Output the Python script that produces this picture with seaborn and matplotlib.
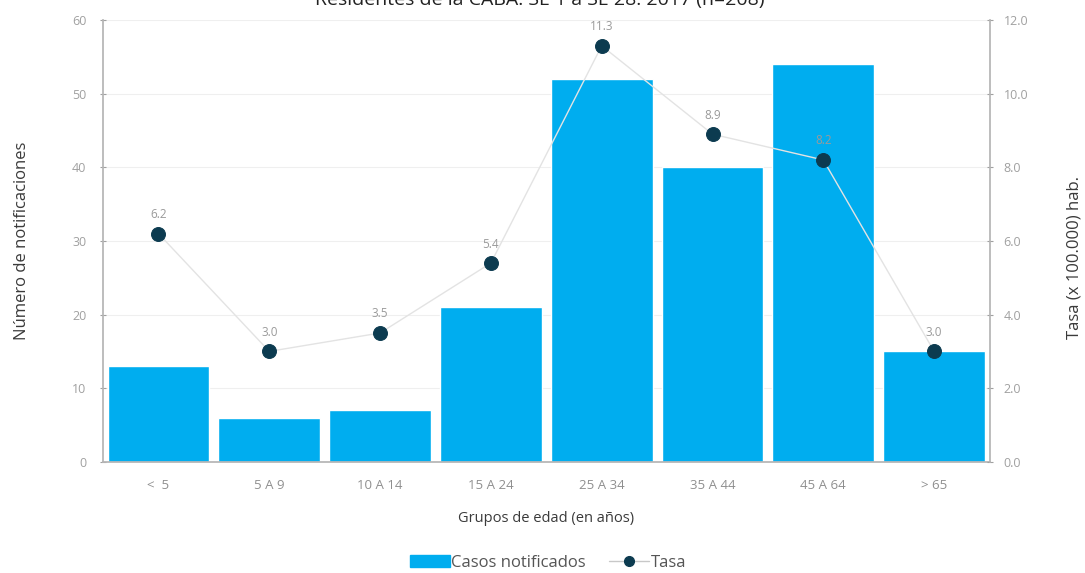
import matplotlib

matplotlib.use("Agg")

import matplotlib.pyplot as plt
import seaborn as sns
from matplotlib.lines import Line2D
from matplotlib.patches import Patch

age_groups = ["<  5", "5 A 9", "10 A 14", "15 A 24", "25 A 34", "35 A 44", "45 A 64", "> 65"]
cases = [13, 6, 7, 21, 52, 40, 54, 15]
rates = [6.2, 3.0, 3.5, 5.4, 11.3, 8.9, 8.2, 3.0]
left_ticks = [0, 10, 20, 30, 40, 50, 60]
right_ticks = [0, 2, 4, 6, 8, 10, 12]

title = "Residentes de la CABA. SE 1 a SE 28. 2017 (n=208) *"

bar_color = "#00adef"
dot_color = "#0c3b50"
line_color = "#e3e3e3"
tick_color = "#a0a0a0"
label_color = "#3a3a3a"

sns.set_theme(style="white")
plt.rcParams["font.family"] = ["Open Sans", "DejaVu Sans"]

fig = plt.figure(figsize=(10.85, 5.73), dpi=100)
ax = fig.add_axes([0.095, 0.194, 0.817, 0.771])

sns.barplot(x=age_groups, y=cases, color=bar_color, width=0.92,
            saturation=1, ax=ax, zorder=2)
ax.set_ylim(0, 60)
ax.set_xlim(-0.5, len(age_groups) - 0.5)
ax.set_yticks(left_ticks)
ax.grid(axis="y", color="#efefef", linewidth=0.8, zorder=0)
ax.set_axisbelow(True)

ax2 = ax.twinx()
sns.lineplot(x=age_groups, y=rates, sort=False, color=line_color, linewidth=1,
             marker="o", markersize=10, markerfacecolor=dot_color,
             markeredgecolor=dot_color, ax=ax2, zorder=3)
ax2.set_ylim(0, 12)
ax2.set_yticks(right_ticks)
ax2.set_yticklabels([f"{t:.1f}" for t in right_ticks])
for i, r in enumerate(rates):
    ax2.annotate(f"{r:.1f}", (i, r), xytext=(0, 9), textcoords="offset points",
                 ha="center", va="bottom", fontsize=8.5, color="#9a9a9a")

for a in (ax, ax2):
    for s in a.spines.values():
        s.set_visible(False)
    a.tick_params(axis="y", colors=tick_color, labelsize=9, length=4,
                  width=0.8, direction="inout")
ax.spines["left"].set_visible(True)
ax.spines["left"].set_color("#b5b5b5")
ax.spines["bottom"].set_visible(True)
ax.spines["bottom"].set_color("#b5b5b5")
ax2.spines["right"].set_visible(True)
ax2.spines["right"].set_color("#b5b5b5")
ax2.set_ylabel("")

ax.set_xticks(range(len(age_groups)))
ax.set_xticklabels(age_groups)
ax.tick_params(axis="x", colors="#8f8f8f", labelsize=9.5, length=0, pad=12)
ax.set_xticks([i + 0.5 for i in range(-1, len(age_groups))], minor=True)
ax.tick_params(axis="x", which="minor", length=4, width=0.8, color="#e0b0a8",
               direction="inout")
ax.tick_params(axis="y", pad=10)
ax2.tick_params(axis="y", pad=8)

ax.set_xlabel("Grupos de edad (en años)", fontsize=10.5, color=label_color, labelpad=14)
ax.set_ylabel("Número de notificaciones", fontsize=12, color=label_color, labelpad=30)
fig.text(0.99, 0.55, "Tasa (x 100.000) hab.", rotation=90, ha="center",
         va="center", fontsize=12, color=label_color)

fig.text(0.505, 1.0, title, ha="center", va="center", fontsize=14, color="#222222")

handles = [
    Patch(facecolor=bar_color, edgecolor=bar_color, label="Casos notificados"),
    Line2D([0], [0], color="#c8c8c8", linewidth=1, marker="o", markersize=7,
           markerfacecolor=dot_color, markeredgecolor=dot_color, label="Tasa"),
]
leg = fig.legend(handles=handles, loc="center", bbox_to_anchor=(0.505, 0.018),
                 ncol=2, frameon=False, fontsize=12, handlelength=2.4,
                 handletextpad=0.1, columnspacing=1.4)
for t in leg.get_texts():
    t.set_color("#555555")

fig.savefig("out.png", dpi=100)
plt.close(fig)
